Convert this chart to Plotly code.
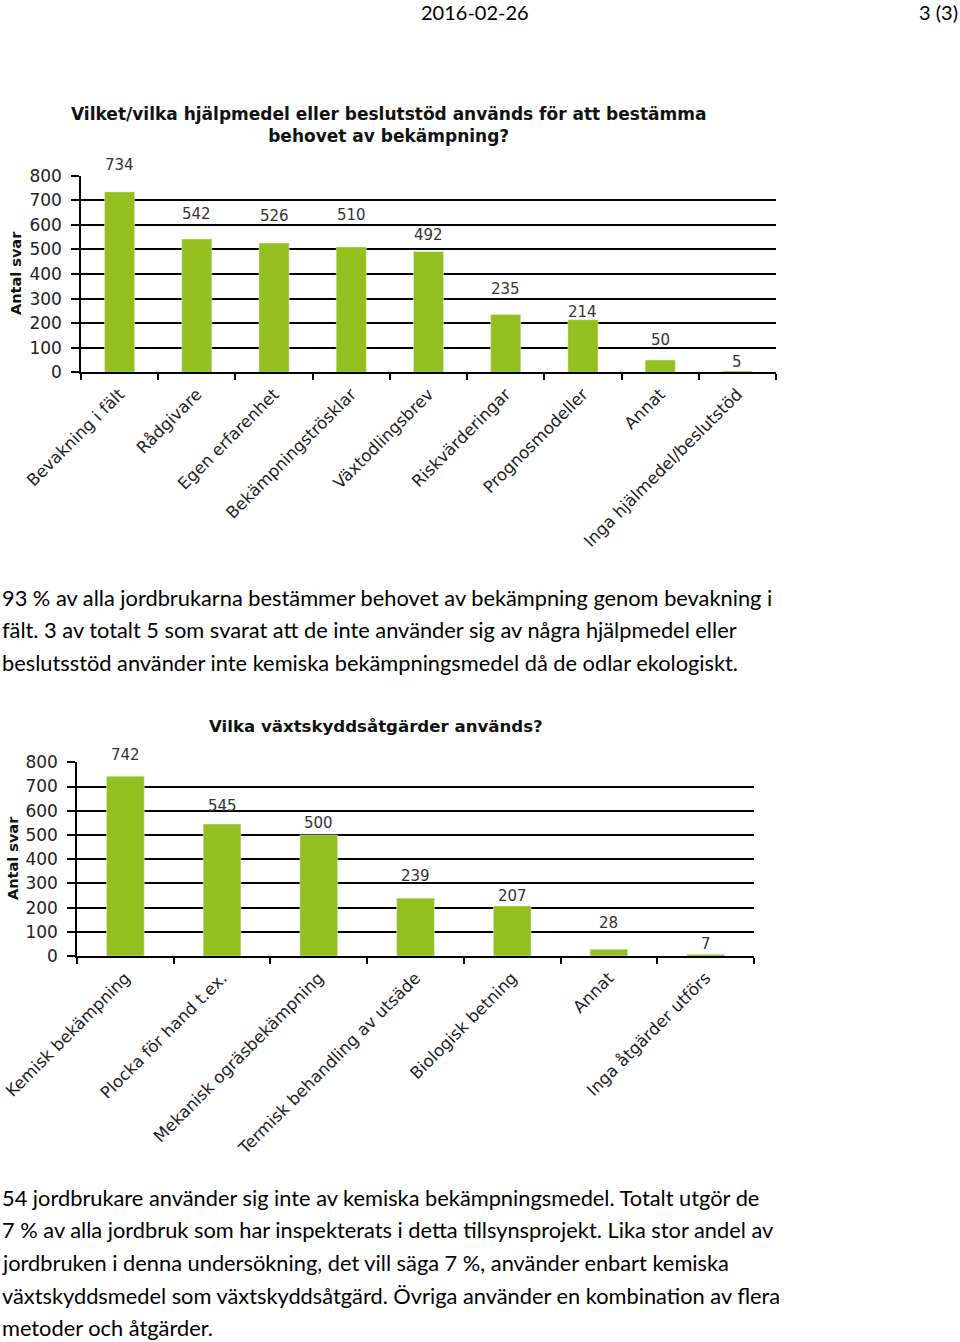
import plotly.graph_objects as go

# ---------------- data ----------------
cats1 = ["Bevakning i fält", "Rådgivare", "Egen erfarenhet", "Bekämpningströsklar",
         "Växtodlingsbrev", "Riskvärderingar", "Prognosmodeller", "Annat",
         "Inga hjälmedel/beslutstöd"]
vals1 = [734, 542, 526, 510, 492, 235, 214, 50, 5]

cats2 = ["Kemisk bekämpning", "Plocka för hand t.ex.", "Mekanisk ogräsbekämpning",
         "Termisk behandling av utsäde", "Biologisk betning", "Annat",
         "Inga åtgärder utförs"]
vals2 = [742, 545, 500, 239, 207, 28, 7]

title1 = "Vilket/vilka hjälpmedel eller beslutstöd används för att bestämma<br>behovet av bekämpning?"
title2 = "Vilka växtskyddsåtgärder används?"
ytitle = "Antal svar"
yticks = [0, 100, 200, 300, 400, 500, 600, 700, 800]

header_date = "2016-02-26"
header_page = "3 (3)"

para1 = [
    "93 % av alla jordbrukarna bestämmer behovet av bekämpning genom bevakning i",
    "fält. 3 av totalt 5 som svarat att de inte använder sig av några hjälpmedel eller",
    "beslutsstöd använder inte kemiska bekämpningsmedel då de odlar ekologiskt.",
]
para2 = [
    "54 jordbrukare använder sig inte av kemiska bekämpningsmedel. Totalt utgör de",
    "7 % av alla jordbruk som har inspekterats i detta tillsynsprojekt. Lika stor andel av",
    "jordbruken i denna undersökning, det vill säga 7 %, använder enbart kemiska",
    "växtskyddsmedel som växtskyddsåtgärd. Övriga använder en kombination av flera",
    "metoder och åtgärder.",
]

# ---------------- style ----------------
W, H = 960, 1342
GREEN = "#93c01f"
AXFONT = "DejaVu Sans, Verdana, sans-serif"
BODYFONT = "Lato, Carlito, Calibri, sans-serif"
label_shift1 = [27, 25, 27, 32, 16, 26, 8, 20, 9]   # px offsets of value labels
label_shift2 = [21, 18, 12, 22, 10, 26, 10]


def px(x):
    return x / W


def py(y):
    return 1 - y / H


fig = go.Figure()
fig.add_trace(go.Bar(x=cats1, y=vals1, xaxis="x", yaxis="y", marker_color=GREEN,
                     width=0.39, showlegend=False, hoverinfo="x+y"))
fig.add_trace(go.Bar(x=cats2, y=vals2, xaxis="x2", yaxis="y2", marker_color=GREEN,
                     width=0.39, showlegend=False, hoverinfo="x+y"))

xcommon = dict(showline=True, linecolor="black", linewidth=1.5, ticks="outside",
               tickson="boundaries", ticklen=6, tickcolor="black", tickwidth=1.5,
               tickangle=-45, showgrid=False, zeroline=False, automargin=False,
               ticklabelstandoff=4,
               tickfont=dict(family=AXFONT, size=16.6, color="#222"))
ycommon = dict(range=[0, 800], tickvals=yticks, showgrid=True, gridcolor="black",
               gridwidth=1.5, showline=True, linecolor="black", linewidth=1.5,
               ticks="outside", ticklen=8, tickcolor="black", tickwidth=1.5,
               zeroline=False, automargin=False, ticklabelstandoff=6,
               tickfont=dict(family=AXFONT, size=17, color="#222"))

fig.update_layout(
    width=W, height=H, margin=dict(l=0, r=0, t=0, b=0, autoexpand=False),
    paper_bgcolor="white", plot_bgcolor="white",
    xaxis=dict(domain=[px(81), px(776)], anchor="y", **xcommon),
    yaxis=dict(domain=[py(372.3), py(175.7)], anchor="x", **ycommon),
    xaxis2=dict(domain=[px(77), px(754)], anchor="y2", **xcommon),
    yaxis2=dict(domain=[py(956), py(762.3)], anchor="x2", **ycommon),
)

ann = []
# header
ann.append(dict(text=header_date, x=px(475), y=py(12), xref="paper", yref="paper",
                xanchor="center", yanchor="middle", showarrow=False,
                font=dict(family=BODYFONT, size=20, color="black")))
ann.append(dict(text=header_page, x=px(960), y=py(12), xref="paper", yref="paper",
                xanchor="right", yanchor="middle", showarrow=False,
                font=dict(family=BODYFONT, size=20, color="black")))
# chart titles
ann.append(dict(text="<b>" + title1.replace("<br>", "</b><br><b>") + "</b>",
                x=px(388), y=py(125), xref="paper", yref="paper",
                xanchor="center", yanchor="middle", showarrow=False,
                font=dict(family=AXFONT, size=17, color="#111")))
ann.append(dict(text="<b>" + title2 + "</b>", x=px(376), y=py(726), xref="paper",
                yref="paper", xanchor="center", yanchor="middle", showarrow=False,
                font=dict(family=AXFONT, size=16.6, color="#111")))
# y axis titles
ann.append(dict(text="<b>" + ytitle + "</b>", x=px(16), y=py(273), xref="paper",
                yref="paper", textangle=-90, xanchor="center", yanchor="middle",
                showarrow=False, font=dict(family=AXFONT, size=14.5, color="#111")))
ann.append(dict(text="<b>" + ytitle + "</b>", x=px(13), y=py(858), xref="paper",
                yref="paper", textangle=-90, xanchor="center", yanchor="middle",
                showarrow=False, font=dict(family=AXFONT, size=14.5, color="#111")))
# value labels
for c, v, s in zip(cats1, vals1, label_shift1):
    ann.append(dict(text=str(v), x=c, y=v, xref="x", yref="y", yanchor="middle",
                    xanchor="center", yshift=s, showarrow=False,
                    font=dict(family=AXFONT, size=15, color="#333")))
for c, v, s in zip(cats2, vals2, label_shift2):
    ann.append(dict(text=str(v), x=c, y=v, xref="x2", yref="y2", yanchor="middle",
                    xanchor="center", yshift=s, showarrow=False,
                    font=dict(family=AXFONT, size=15, color="#333")))
# body text
for i, line in enumerate(para1):
    ann.append(dict(text=line, x=0, y=py(597 + 32.5 * i), xref="paper", yref="paper",
                    xanchor="left", yanchor="middle", showarrow=False,
                    font=dict(family=BODYFONT, size=21.8, color="black")))
for i, line in enumerate(para2):
    ann.append(dict(text=line, x=0, y=py(1197 + 32.7 * i), xref="paper", yref="paper",
                    xanchor="left", yanchor="middle", showarrow=False,
                    font=dict(family=BODYFONT, size=21.8, color="black")))

fig.update_layout(annotations=ann)
fig.write_html("out.html")
